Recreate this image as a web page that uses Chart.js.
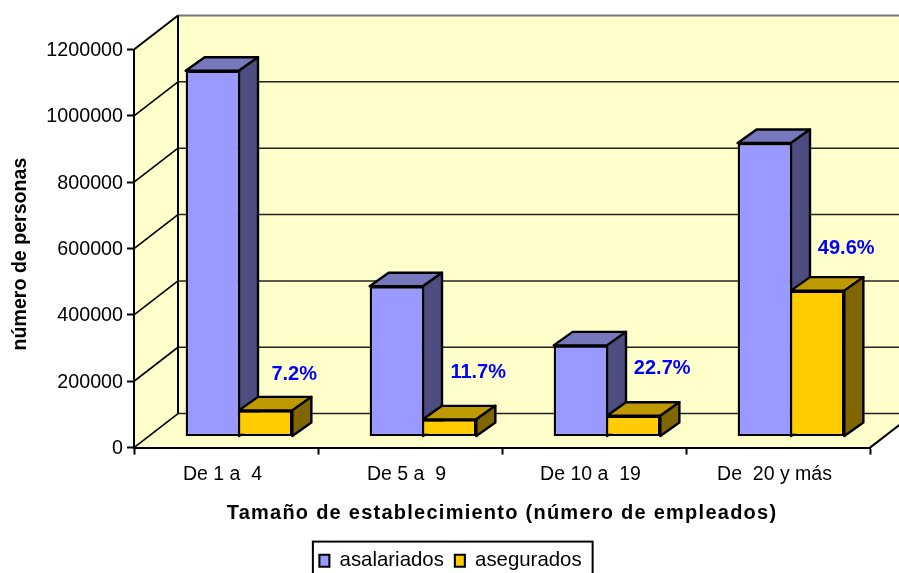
<!DOCTYPE html>
<html>
<head>
<meta charset="utf-8">
<style>html,body{margin:0;padding:0;background:#fff;overflow:hidden}canvas{display:block}</style>
<script src="https://cdn.jsdelivr.net/npm/chart.js@4/dist/chart.umd.min.js"></script>
</head>
<body>
<canvas id="c" width="899" height="573"></canvas>
<script>
const categories = ['De 1 a  4', 'De 5 a  9', 'De 10 a  19', 'De  20 y más'];
const asalariados = [1103000, 453000, 275000, 885000];
const asegurados = [79000, 52000, 63000, 440000];
const porcentajes = ['7.2%', '11.7%', '22.7%', '49.6%'];
const percentLift = [36, 47, 47, 42];

const FONT = '"Liberation Sans", Arial, sans-serif';
const wallDepth = {x: 44, y: -34};
const barShift = {x: 13, y: -11};
const barDepth = {x: 19, y: -13.5};
const faces = [
  {top: '#7777BB', side: '#4D4D80'},
  {top: '#BF9900', side: '#806600'}
];

function poly(ctx, pts, fill, stroke, lw) {
  ctx.beginPath();
  pts.forEach((p, i) => i ? ctx.lineTo(p[0], p[1]) : ctx.moveTo(p[0], p[1]));
  ctx.closePath();
  if (fill) { ctx.fillStyle = fill; ctx.fill(); }
  if (stroke) { ctx.strokeStyle = stroke; ctx.lineWidth = lw; ctx.lineJoin = 'round'; ctx.stroke(); }
}
function seg(ctx, x1, y1, x2, y2, color, lw) {
  ctx.beginPath(); ctx.moveTo(x1, y1); ctx.lineTo(x2, y2);
  ctx.strokeStyle = color; ctx.lineWidth = lw; ctx.stroke();
}

const wrapDraw = (scale, method, dx, dy, spacing) => {
  const key = '_wrapped_' + method;
  if (scale[key]) return;
  scale[key] = true;
  const orig = scale[method];
  scale[method] = function (...args) {
    const ctx = this.ctx;
    ctx.save();
    ctx.translate(dx, dy);
    ctx.letterSpacing = spacing;
    orig.apply(this, args);
    ctx.restore();
  };
};

const scene3d = {
  id: 'scene3d',
  afterLayout(chart) {
    wrapDraw(chart.scales.y, 'drawTitle', -22, 5.5, '0px');
    wrapDraw(chart.scales.x, 'drawTitle', 0, 0, '1.25px');
    wrapDraw(chart.scales.y, 'drawLabels', 0, 1, '0px');
    wrapDraw(chart.scales.x, 'drawLabels', -3.5, 2.5, '0px');
  },
  beforeDraw(chart) {
    const {ctx, chartArea: a, scales: {y}} = chart;
    const dx = wallDepth.x, dy = wallDepth.y;
    const far = a.right + dx;
    ctx.save();
    poly(ctx, [[a.left + dx, a.top + dy], [far, a.top + dy], [far, a.bottom + dy], [a.left + dx, a.bottom + dy]], '#FFFFCC');
    poly(ctx, [[a.left, a.top], [a.left + dx, a.top + dy], [a.left + dx, a.bottom + dy], [a.left, a.bottom]], '#FFFFCC');
    poly(ctx, [[a.left, a.bottom], [a.right, a.bottom], [far, a.bottom + dy], [a.left + dx, a.bottom + dy]], '#FFFFCC');
    y.ticks.forEach(t => {
      const py = y.getPixelForValue(t.value);
      const isTop = t.value === y.max;
      seg(ctx, a.left, py, a.left + dx, py + dy, '#000', isTop ? 2 : 1.6);
      seg(ctx, a.left + dx, py + dy, far, py + dy, isTop ? '#777' : '#222', isTop ? 2 : 1.5);
    });
    seg(ctx, a.left + dx, a.top + dy, a.left + dx, a.bottom + dy, '#000', 2);
    seg(ctx, a.right, a.bottom, far, a.bottom + dy, '#000', 2);
    ctx.restore();
  },
  beforeDatasetsDraw(chart) {
    const ctx = chart.ctx;
    ctx.save();
    ctx.translate(barShift.x, barShift.y);
    [0, 1].forEach(d => {
      chart.getDatasetMeta(d).data.forEach(b => {
        const l = b.x - b.width / 2, r = b.x + b.width / 2;
        const dx = barDepth.x, dy = barDepth.y;
        poly(ctx, [[l, b.y], [l + dx, b.y + dy], [r + dx, b.y + dy], [r, b.y]], faces[d].top, '#000', 2.4);
        poly(ctx, [[r, b.y], [r + dx, b.y + dy], [r + dx, b.base + dy], [r, b.base]], faces[d].side, '#000', 2.4);
      });
    });
    ctx.restore();
  },
  beforeDatasetDraw(chart) {
    chart.ctx.save();
    chart.ctx.translate(barShift.x, barShift.y);
  },
  afterDatasetDraw(chart) {
    chart.ctx.restore();
  },
  afterDatasetsDraw(chart) {
    const ctx = chart.ctx;
    ctx.save();
    ctx.font = 'bold 20px ' + FONT;
    ctx.fillStyle = '#0000FF';
    ctx.textAlign = 'center';
    ctx.textBaseline = 'middle';
    chart.getDatasetMeta(1).data.forEach((b, i) => {
      ctx.fillText(porcentajes[i], b.x + barShift.x + 28.5, b.y + barShift.y - percentLift[i]);
    });
    ctx.restore();
  },
  afterDraw(chart) {
    const {ctx, legend} = chart;
    const boxes = legend.legendHitBoxes;
    const first = boxes[0], last = boxes[boxes.length - 1];
    const left = first.left - 6.5;
    ctx.save();
    ctx.strokeStyle = '#000';
    ctx.lineWidth = 2;
    ctx.strokeRect(left, first.top - 9, last.left + last.width + 11 - left, 60);
    ctx.restore();
  }
};

new Chart(document.getElementById('c'), {
  type: 'bar',
  data: {
    labels: categories,
    datasets: [
      {label: 'asalariados', data: asalariados, backgroundColor: '#9999FF', borderColor: '#000',
       borderWidth: {top: 2.4, left: 2.4, bottom: 2.4, right: 1.2}, borderSkipped: false,
       categoryPercentage: 0.58, barPercentage: 1},
      {label: 'asegurados', data: asegurados, backgroundColor: '#FFCC00', borderColor: '#000',
       borderWidth: {top: 2.4, left: 1.2, bottom: 2.4, right: 2.4}, borderSkipped: false,
       categoryPercentage: 0.58, barPercentage: 1}
    ]
  },
  options: {
    responsive: false,
    animation: false,
    devicePixelRatio: 1,
    layout: {padding: {left: 31, right: 29, top: 49.5, bottom: -8}},
    plugins: {
      tooltip: {enabled: false},
      legend: {
        position: 'bottom',
        labels: {boxWidth: 10, boxHeight: 12, padding: 11, color: '#000', font: {family: FONT, size: 20.4}}
      }
    },
    scales: {
      x: {
        afterFit(s) { s.height = 92; },
        grid: {drawOnChartArea: false, tickLength: 7, tickColor: '#000', tickWidth: 2, offset: true},
        border: {color: '#000', width: 2},
        ticks: {color: '#000', padding: 6, maxRotation: 0, font: {family: FONT, size: 19.5}},
        title: {display: true, text: 'Tamaño de establecimiento (número de empleados)', color: '#000',
                font: {family: FONT, size: 20, weight: 'bold'}, padding: {top: 0, bottom: 14}}
      },
      y: {
        min: 0, max: 1200000,
        afterFit(s) { s.width = 103; },
        grid: {drawOnChartArea: false, tickLength: 7, tickColor: '#000', tickWidth: 2},
        border: {color: '#000', width: 2},
        ticks: {color: '#000', padding: 4, stepSize: 200000, callback: v => String(v), font: {family: FONT, size: 19.7}},
        title: {display: true, text: 'número de personas', color: '#000',
                font: {family: FONT, size: 19.6, weight: 'bold'}, padding: {top: 0, bottom: 0}}
      }
    }
  },
  plugins: [scene3d]
});
</script>
</body>
</html>
